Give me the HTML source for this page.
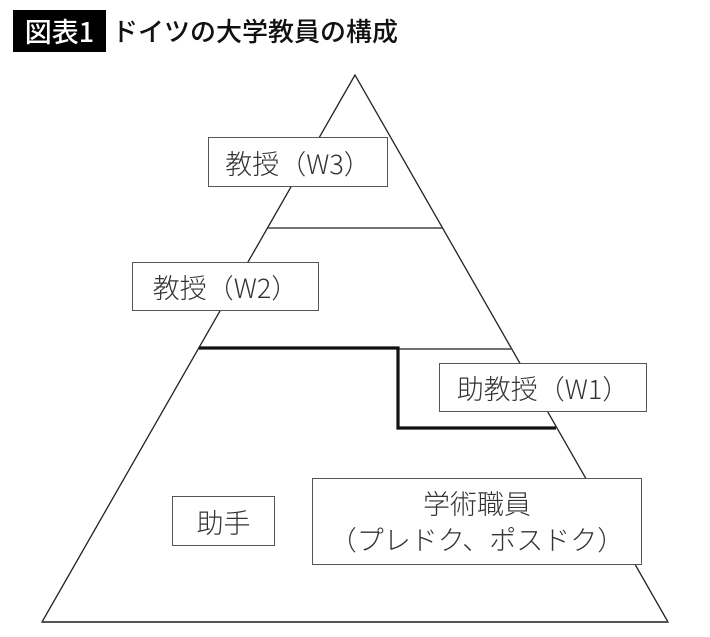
<!DOCTYPE html>
<html><head><meta charset="utf-8"><style>
html,body{margin:0;padding:0;background:#fff;}
body{width:710px;height:637px;position:relative;overflow:hidden;font-family:"Noto Sans CJK JP","Liberation Sans",sans-serif;}
.t{position:absolute;white-space:nowrap;}
.box{position:absolute;border:1.5px solid #555;background:#fff;box-sizing:border-box;display:flex;align-items:center;justify-content:center;font-size:27px;color:#333;font-family:"Noto Sans CJK JP","Liberation Sans",sans-serif;font-weight:300;}
</style></head><body>
<div style="position:absolute;left:13px;top:10px;width:93px;height:42px;background:#000;"></div>
<div class="t" style="left:13px;top:10px;width:93px;height:42px;line-height:42px;text-align:center;color:#fff;font-size:27px;font-weight:500;">図表1</div>
<div class="t" style="left:112px;top:10px;height:42px;line-height:42px;color:#111;font-size:26px;font-weight:500;">ドイツの大学教員の構成</div>
<svg width="710" height="637" style="position:absolute;left:0;top:0;">
<polygon points="355,75 42,622 668,622" fill="none" stroke="#222" stroke-width="1.3"/>
<line x1="42" y1="622" x2="668" y2="622" stroke="#555" stroke-width="2"/>
<line x1="268" y1="228" x2="442" y2="228" stroke="#444" stroke-width="1.5"/>
<line x1="398" y1="349" x2="512" y2="349" stroke="#444" stroke-width="1.5"/>
<polyline points="199,348 398,348 398,428 556,428" fill="none" stroke="#111" stroke-width="3.2"/>
</svg>
<div class="box" style="left:208px;top:137px;width:180px;height:50px;">教授（W3）</div>
<div class="box" style="left:132px;top:262px;width:187px;height:49px;">教授（W2）</div>
<div class="box" style="left:439px;top:363px;width:208px;height:49px;">助教授（W1）</div>
<div class="box" style="left:172px;top:496px;width:103px;height:50px;">助手</div>
<div class="box" style="left:312px;top:478px;width:330px;height:87px;flex-direction:column;line-height:36px;padding-bottom:2px;"><div>学術職員</div><div>（プレドク、ポスドク）</div></div>
</body></html>
